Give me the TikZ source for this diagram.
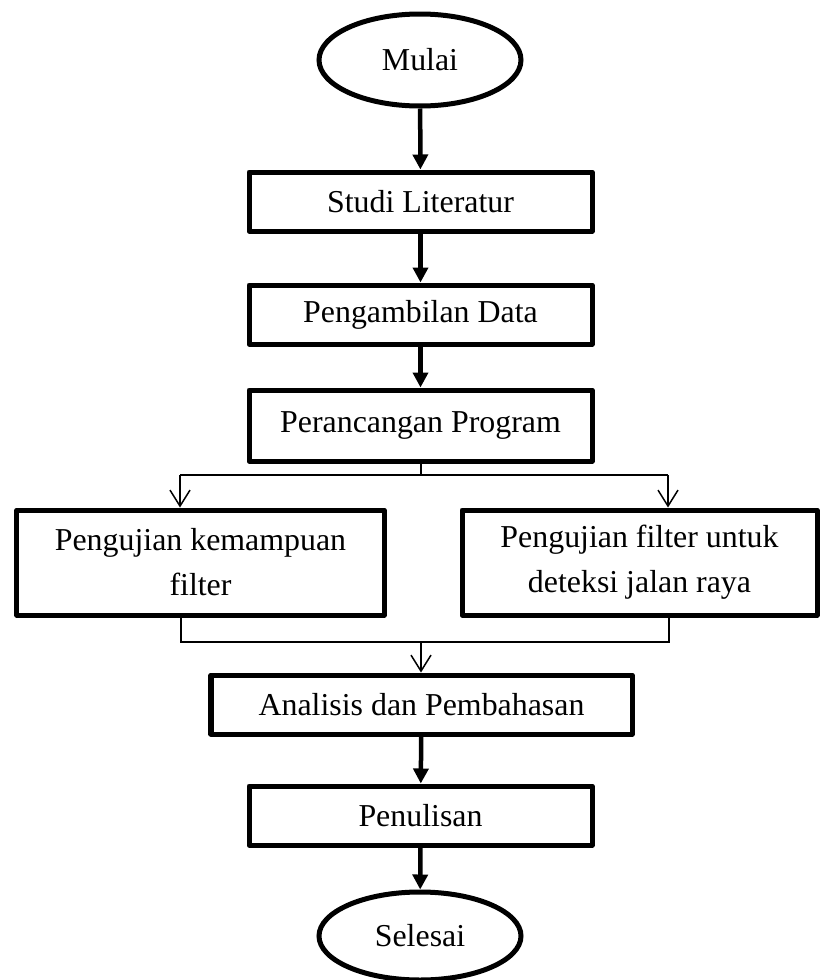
\documentclass[tikz,border=0pt]{standalone}
\usepackage{fontspec}
\setmainfont{Liberation Serif}
\usetikzlibrary{arrows.meta,shapes.geometric}

\tikzset{
    box/.style={draw, rectangle, line width=5bp, line join=round, inner sep=0pt, align=center},
    terminal/.style={draw, ellipse, line width=5bp, inner sep=0pt},
    thickarrow/.style={line width=4.5bp, -{Triangle[width=15bp,length=15bp]}},
    thinline/.style={line width=1.5bp},
    thinarrow/.style={line width=1.5bp, -{Straight Barb[width=20bp,length=16bp]}}
}

\begin{document}
\begin{tikzpicture}[x=1bp,y=-1bp,font=\fontsize{32}{45}\selectfont]
    \useasboundingbox (0,0) rectangle (821,980);

    % Define the nodes of the flow
    \node[terminal, minimum width=202bp, minimum height=92bp] (mulai) at (420,60) {Mulai};
    \node[box, minimum width=343bp, minimum height=59bp] (studi) at (420.5,201.5) {Studi Literatur};
    \node[box, minimum width=343bp, minimum height=59bp] (ambil) at (420.5,314.5) {Pengambilan Data};
    \node[box, minimum width=343bp, minimum height=71bp] (rancang) at (420.5,425.5) {Perancangan Program};
    \node[box, minimum width=367bp, minimum height=105bp] (uji1) at (200.5,562.5) {Pengujian kemampuan\\filter};
    \node[box, minimum width=355bp, minimum height=105bp] (uji2) at (639.5,562.5) {Pengujian filter untuk\\deteksi jalan raya};
    \node[box, minimum width=421bp, minimum height=59bp] (analisis) at (421.5,704.5) {Analisis dan Pembahasan};
    \node[box, minimum width=343bp, minimum height=59bp] (tulis) at (420.5,815.5) {Penulisan};
    \node[terminal, minimum width=202bp, minimum height=88bp] (selesai) at (420,936) {Selesai};

    % Define the points of the branches
    \coordinate (split) at (421,475);
    \coordinate (splitL) at (180,475);
    \coordinate (splitR) at (668,475);
    \coordinate (join) at (421,642);
    \coordinate (joinL) at (181,642);
    \coordinate (joinR) at (669,642);

    % Draw the main arrows
    \draw[thickarrow] (mulai) -- (studi);
    \draw[thickarrow] (studi) -- (ambil);
    \draw[thickarrow] (ambil) -- (rancang);
    \draw[thickarrow] (analisis) -- (tulis);
    \draw[thickarrow] (tulis) -- (selesai);

    % Draw the split into the two tests
    \draw[thinline] (rancang.south -| split) -- (split);
    \draw[thinline] (splitL) -- (splitR);
    \draw[thinarrow] (splitL) -- (uji1.north -| splitL);
    \draw[thinarrow] (splitR) -- (uji2.north -| splitR);

    % Draw the join back into the analysis
    \draw[thinline] (uji1.south -| joinL) -- (joinL) -- (joinR) -- (uji2.south -| joinR);
    \draw[thinarrow] (join) -- (analisis.north -| join);

\end{tikzpicture}
\end{document}
